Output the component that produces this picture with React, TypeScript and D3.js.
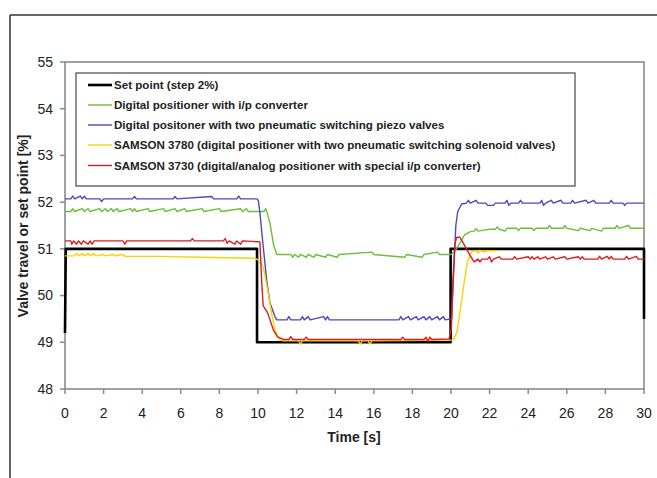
import React from "react";
import * as d3 from "d3";

type P = [number, number];

const seriesNames = [
  "Set point (step 2%)",
  "Digital positioner with i/p converter",
  "Digital positoner with two pneumatic switching piezo valves",
  "SAMSON 3780 (digital positioner with two pneumatic switching solenoid valves)",
  "SAMSON 3730 (digital/analog positioner with special i/p converter)",
];
const seriesColors = ["#000000", "#6cbf3a", "#4a4ab8", "#f7d308", "#d81e1e"];
const seriesWidths = [2.6, 1.4, 1.4, 1.4, 1.4];

const xTicks = [0, 2, 4, 6, 8, 10, 12, 14, 16, 18, 20, 22, 24, 26, 28, 30];
const yTicks = [48, 49, 50, 51, 52, 53, 54, 55];

const setPoint: P[] = [
  [0, 49.2], [0.04, 51], [9.95, 51], [9.95, 49], [19.98, 49], [19.98, 51], [30, 51], [30, 49.5],
];

const green: P[] = [
  [0, 51.8], [0.3, 51.8], [0.4, 51.86], [0.5, 51.8], [0.9, 51.86], [1.0, 51.8], [1.2, 51.86], [1.3, 51.8],
  [1.8, 51.86], [1.9, 51.8], [2.1, 51.86], [2.2, 51.8], [2.4, 51.86], [2.5, 51.8], [2.7, 51.86], [2.8, 51.8],
  [3.4, 51.86], [3.5, 51.8], [3.6, 51.86], [3.7, 51.8], [4.3, 51.86], [4.4, 51.8], [5.1, 51.86], [5.2, 51.8],
  [5.7, 51.86], [5.8, 51.8], [6.2, 51.86], [6.3, 51.8], [7.1, 51.86], [7.2, 51.8], [8.0, 51.86], [8.1, 51.8],
  [9.1, 51.86], [9.2, 51.8], [9.4, 51.86], [9.5, 51.8], [10.3, 51.8], [10.4, 51.86], [10.47, 51.78],
  [10.62, 51.55], [10.8, 51.1], [10.97, 50.88], [11.7, 50.88], [11.8, 50.82], [11.9, 50.88], [12.1, 50.82],
  [12.2, 50.88], [12.5, 50.82], [12.6, 50.88], [12.9, 50.82], [13.0, 50.88], [13.5, 50.82], [13.6, 50.88],
  [14.1, 50.82], [14.2, 50.88], [15.9, 50.93], [16.0, 50.88], [17.6, 50.82], [17.7, 50.88], [18.5, 50.82],
  [18.6, 50.88], [19.3, 50.93], [19.4, 50.88], [20.0, 50.88], [20.2, 50.95], [20.5, 51.15], [20.7, 51.3],
  [21.0, 51.37], [21.2, 51.38], [21.3, 51.43], [21.4, 51.38], [21.7, 51.4], [22.0, 51.42], [22.3, 51.42],
  [22.4, 51.47], [22.5, 51.42], [22.8, 51.38], [22.9, 51.44], [23.4, 51.44], [23.5, 51.39], [23.6, 51.44],
  [24.2, 51.44], [24.3, 51.39], [24.4, 51.44], [25.0, 51.44], [25.1, 51.5], [25.2, 51.44], [25.8, 51.44],
  [25.9, 51.5], [26.0, 51.44], [26.6, 51.39], [26.7, 51.44], [27.2, 51.39], [27.3, 51.44], [27.8, 51.38],
  [27.9, 51.44], [28.5, 51.44], [28.6, 51.5], [28.7, 51.44], [29.2, 51.5], [29.3, 51.44], [30, 51.44],
];

const blue: P[] = [
  [0, 52.07], [0.3, 52.07], [0.4, 52.13], [0.5, 52.07], [0.8, 52.13], [0.9, 52.07], [1.0, 52.13], [1.1, 52.07],
  [1.8, 52.07], [1.9, 52.01], [2.0, 52.07], [3.5, 52.07], [3.6, 52.12], [3.7, 52.07], [5.6, 52.07],
  [5.7, 52.12], [5.8, 52.07], [7.6, 52.12], [7.7, 52.07], [8.9, 52.07], [9.0, 52.13], [9.1, 52.07],
  [9.95, 52.07], [10.02, 52.03], [10.1, 51.77], [10.27, 51.05], [10.45, 50.33], [10.62, 49.84],
  [10.88, 49.55], [10.97, 49.48], [11.5, 49.48], [11.6, 49.55], [11.7, 49.48], [12.2, 49.48], [12.3, 49.55],
  [12.4, 49.48], [12.6, 49.55], [12.7, 49.48], [13.4, 49.55], [13.5, 49.48], [13.6, 49.55], [13.7, 49.48],
  [17.3, 49.48], [17.4, 49.55], [17.5, 49.48], [17.8, 49.55], [17.9, 49.48], [18.2, 49.55], [18.3, 49.48],
  [18.6, 49.55], [18.7, 49.48], [18.9, 49.55], [19.0, 49.48], [19.3, 49.55], [19.4, 49.48], [19.6, 49.55],
  [19.7, 49.48], [20.03, 49.5], [20.15, 50.6], [20.25, 51.5], [20.35, 51.8], [20.55, 51.96], [20.8, 51.98],
  [20.9, 52.04], [21.0, 51.98], [21.3, 52.04], [21.4, 51.98], [21.8, 51.98], [21.9, 51.93], [22.2, 51.93],
  [22.3, 51.98], [22.8, 51.98], [22.9, 52.04], [23.0, 51.93], [23.1, 51.98], [23.5, 51.98], [23.6, 52.04],
  [23.7, 51.98], [24.6, 51.98], [24.7, 52.04], [24.8, 51.93], [24.9, 51.98], [25.2, 52.04], [25.3, 51.98],
  [25.7, 52.04], [25.8, 51.98], [26.2, 51.98], [26.3, 52.04], [26.4, 51.98], [27.0, 52.04], [27.1, 51.98],
  [27.4, 52.04], [27.5, 51.98], [28.2, 51.98], [28.3, 52.04], [28.4, 51.98], [28.9, 51.98], [29.0, 51.93],
  [29.1, 51.98], [30, 51.98],
];

const yellow: P[] = [
  [0, 50.85], [0.5, 50.85], [0.6, 50.9], [0.7, 50.85], [0.9, 50.9], [1.0, 50.85], [1.2, 50.9], [1.3, 50.85],
  [1.5, 50.9], [1.6, 50.85], [2.0, 50.88], [2.1, 50.85], [2.5, 50.88], [2.6, 50.85], [3.0, 50.88],
  [3.1, 50.84], [5.0, 50.84], [7.0, 50.82], [9.85, 50.8], [10.05, 50.75], [10.27, 50.62], [10.5, 50.12],
  [10.7, 49.63], [10.9, 49.23], [11.1, 49.06], [11.3, 49.03], [12.1, 49.03], [12.2, 48.96], [12.3, 49.03],
  [15.2, 49.03], [15.3, 48.96], [15.4, 49.03], [15.7, 49.03], [15.8, 48.96], [15.9, 49.03], [20.1, 49.05],
  [20.3, 49.2], [20.5, 49.75], [20.7, 50.33], [20.85, 50.72], [21.07, 50.94], [21.3, 50.96], [21.4, 50.91],
  [21.5, 50.97], [21.7, 50.93], [21.9, 50.96], [22.4, 50.96],
];

const red: P[] = [
  [0, 51.17], [0.3, 51.17], [0.35, 51.1], [0.45, 51.17], [0.6, 51.1], [0.7, 51.17], [0.85, 51.1],
  [0.95, 51.17], [1.2, 51.1], [1.3, 51.17], [1.4, 51.1], [1.5, 51.17], [3.0, 51.17], [3.1, 51.1],
  [3.2, 51.17], [6.5, 51.17], [6.6, 51.22], [6.7, 51.17], [8.2, 51.17], [8.3, 51.22], [8.4, 51.12],
  [8.5, 51.17], [8.8, 51.1], [8.9, 51.17], [9.1, 51.1], [9.2, 51.17], [10.1, 51.15], [10.19, 50.3],
  [10.27, 49.78], [10.5, 49.63], [10.8, 49.26], [11.0, 49.12], [11.3, 49.06], [11.6, 49.06], [11.7, 49.12],
  [11.8, 49.06], [12.4, 49.06], [12.5, 49.11], [12.6, 49.06], [17.4, 49.06], [17.5, 49.11], [17.6, 49.06],
  [18.6, 49.06], [18.7, 49.11], [18.8, 49.02], [18.9, 49.11], [19.0, 49.06], [19.9, 49.07], [20.02, 49.3],
  [20.1, 50.3], [20.2, 51.1], [20.3, 51.25], [20.45, 51.25], [20.6, 51.15], [20.8, 51.0], [21.0, 50.85],
  [21.2, 50.72], [21.4, 50.78], [21.5, 50.72], [21.6, 50.78], [21.9, 50.78], [22.0, 50.83], [22.1, 50.72],
  [22.2, 50.78], [22.5, 50.83], [22.6, 50.78], [23.2, 50.78], [23.3, 50.83], [23.4, 50.78], [24.0, 50.83],
  [24.1, 50.78], [24.2, 50.83], [24.3, 50.78], [24.5, 50.83], [24.6, 50.78], [24.9, 50.83], [25.0, 50.78],
  [25.3, 50.83], [25.4, 50.78], [25.9, 50.83], [26.0, 50.78], [26.6, 50.83], [26.7, 50.78], [26.8, 50.83],
  [26.9, 50.78], [27.6, 50.78], [27.7, 50.84], [27.8, 50.78], [28.1, 50.84], [28.2, 50.78], [28.3, 50.84],
  [28.4, 50.78], [29.0, 50.78], [29.1, 50.84], [29.2, 50.78], [29.6, 50.84], [29.7, 50.78], [30, 50.78],
];

const allSeries = [setPoint, green, blue, yellow, red];

export default function App() {
  const W = 657, H = 478;
  const x = d3.scaleLinear().domain([0, 30]).range([65, 644]);
  const y = d3.scaleLinear().domain([48, 55]).range([389, 62]);
  const line = d3.line<P>().x((d) => x(d[0])).y((d) => y(d[1]));
  const font = "Arial, 'Liberation Sans', sans-serif";
  const axisColor = "#8a8a8a";
  const textColor = "#222";
  const legX = 76, legY = 73, legW = 499, legH = 113;
  const legRows = [85, 105, 125, 145, 165.5];

  return (
    <svg width={W} height={H} style={{ position: "absolute", left: 0, top: 0 }} fontFamily={font}>
      <rect x={0} y={0} width={W} height={H} fill="#fff" />
      <line x1={10} y1={15} x2={10} y2={H} stroke="#333" strokeWidth={1.5} />
      <line x1={10} y1={15} x2={W} y2={15} stroke="#333" strokeWidth={1.5} />

      {/* plot frame */}
      <rect x={x(0)} y={y(55)} width={x(30) - x(0)} height={y(48) - y(55)} fill="none" stroke={axisColor} strokeWidth={1.6} />

      {/* y ticks */}
      {yTicks.map((t) => (
        <g key={"y" + t}>
          <line x1={x(0) - 5} x2={x(0)} y1={y(t)} y2={y(t)} stroke={axisColor} strokeWidth={1.5} />
          <text x={53} y={y(t)} dy="0.35em" textAnchor="end" fontSize={14} fill={textColor}>{t}</text>
        </g>
      ))}
      {/* x ticks */}
      {xTicks.map((t) => (
        <g key={"x" + t}>
          <line x1={x(t)} x2={x(t)} y1={y(48)} y2={y(48) + 5} stroke={axisColor} strokeWidth={1.5} />
          <text x={x(t)} y={418} textAnchor="middle" fontSize={14} fill={textColor}>{t}</text>
        </g>
      ))}

      <text x={354} y={442} textAnchor="middle" fontSize={14} fontWeight="bold" fill={textColor}>Time [s]</text>
      <text transform={`translate(28,226) rotate(-90)`} textAnchor="middle" fontSize={14} fontWeight="bold" fill={textColor}>
        Valve travel or set point [%]
      </text>

      {/* series */}
      {allSeries.map((s, i) => (
        <path key={"s" + i} d={line(s) || ""} fill="none" stroke={seriesColors[i]} strokeWidth={seriesWidths[i]} strokeLinejoin="round" />
      ))}

      {/* legend */}
      <rect x={legX} y={legY} width={legW} height={legH} fill="#fff" stroke="#555" strokeWidth={1.3} />
      {seriesNames.map((n, i) => (
        <g key={"l" + i}>
          <line x1={88} x2={112} y1={legRows[i]} y2={legRows[i]} stroke={seriesColors[i]} strokeWidth={seriesWidths[i]} />
          <text x={114} y={legRows[i]} dy="0.36em" fontSize={11.6} fontWeight="bold" fill={textColor}>{n}</text>
        </g>
      ))}
    </svg>
  );
}
